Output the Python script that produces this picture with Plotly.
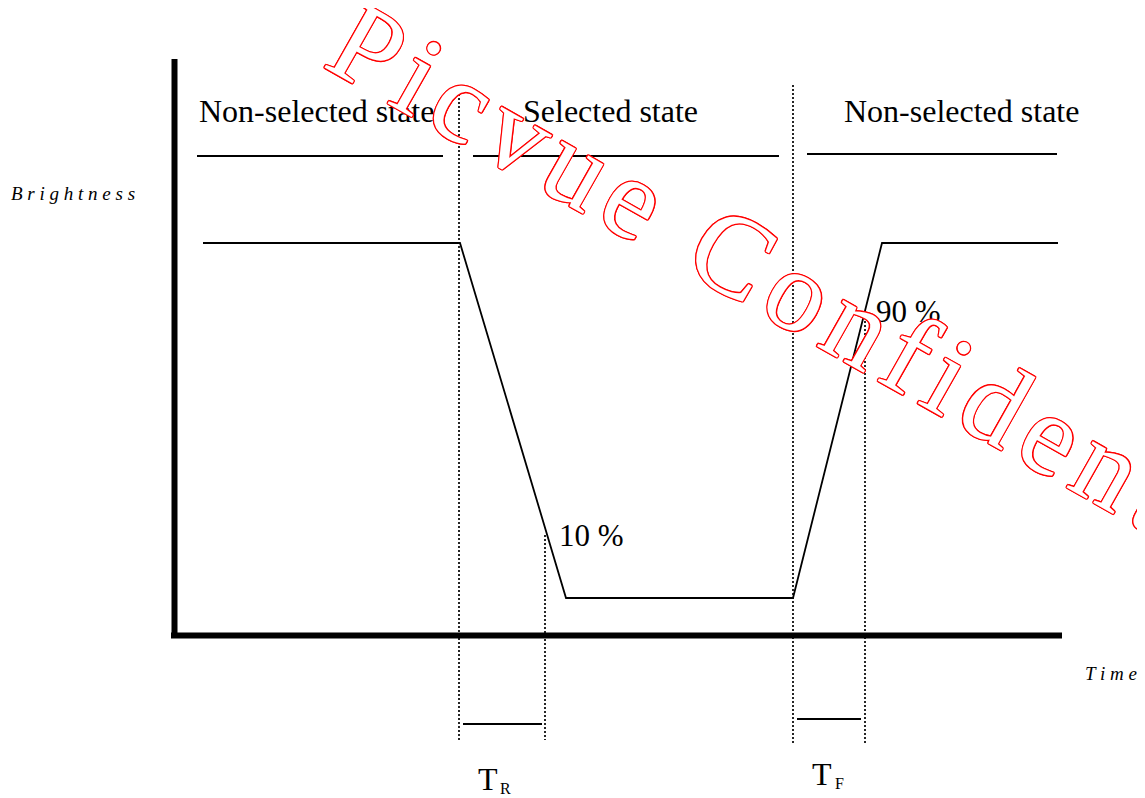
import plotly.graph_objects as go

# canvas units: x to the right, y downwards (pixels of the drawing)
W, H = 1145, 798
PAGE_MARGIN = 8  # default body margin of the html page

# brightness waveform: off -> on (rise) -> off (fall)
wave_time = [203, 460, 566, 793, 882, 1058]
wave_level = [243, 243, 598, 598, 243, 243]

# state bars above the waveform
state_start = [197, 473, 807]
state_end = [443, 779, 1057]
state_level = [156, 156, 154]
state_names = ["Non-selected state", "Selected state", "Non-selected state"]
state_name_x = [316, 610, 961]

# dotted time markers (10 % / 90 % points)
marker_time = [459, 545, 793, 865]
marker_top = [90, 535, 85, 313]
marker_bottom = [742, 740, 743, 745]

# response time intervals
interval_start = [463, 797]
interval_end = [542, 861]
interval_level = [724, 719]
interval_names = ["T", "T"]
interval_subs = ["R", "F"]

pct_labels = ["10 %", "90 %"]
pct_x = [591, 908]
pct_y = [535, 311]

watermark = "Picvue Confidential"

fig = go.Figure()

# axes drawn as thick lines
fig.add_trace(go.Scatter(x=[174.5, 174.5, None, 171, 1062], y=[59, 638, None, 635.5, 635.5],
                         mode="lines", line=dict(color="black", width=6)))

fig.add_trace(go.Scatter(x=wave_time, y=wave_level, mode="lines",
                         line=dict(color="black", width=1.8)))

sx, sy = [], []
for a, b, lv in zip(state_start, state_end, state_level):
    sx += [a, b, None]
    sy += [lv, lv, None]
fig.add_trace(go.Scatter(x=sx, y=sy, mode="lines", line=dict(color="black", width=1.8)))

mx, my = [], []
for t, a, b in zip(marker_time, marker_top, marker_bottom):
    mx += [t, t, None]
    my += [a, b, None]
fig.add_trace(go.Scatter(x=mx, y=my, mode="lines",
                         line=dict(color="black", width=1.7, dash="2px,2px")))

ix, iy = [], []
for a, b, lv in zip(interval_start, interval_end, interval_level):
    ix += [a, b, None]
    iy += [lv, lv, None]
fig.add_trace(go.Scatter(x=ix, y=iy, mode="lines", line=dict(color="black", width=2)))

serif = "Liberation Serif, Times New Roman, serif"

for name, x in zip(state_names, state_name_x):
    fig.add_annotation(x=x, y=110.5, text=name, showarrow=False,
                       font=dict(family=serif, size=32, color="black"))

for txt, x, y in zip(pct_labels, pct_x, pct_y):
    fig.add_annotation(x=x, y=y, text=txt, showarrow=False,
                       font=dict(family=serif, size=31, color="black"))

for t, s, a, lv in zip(interval_names, interval_subs, interval_start, interval_level):
    fig.add_annotation(x=a + 25, y=lv + 55, text=t, showarrow=False,
                       font=dict(family=serif, size=32, color="black"))
    fig.add_annotation(x=a + 42, y=lv + 64, text=s, showarrow=False,
                       font=dict(family=serif, size=16, color="black"))

fig.add_annotation(x=72.5, y=193, text=" ".join("Brightness"), showarrow=False,
                   font=dict(family=serif, size=19, color="black", style="italic"))
fig.add_annotation(x=1111, y=673, text=" ".join("Time"), showarrow=False,
                   font=dict(family=serif, size=19, color="black", style="italic"))

# hollow red watermark
outline = ", ".join(f"{dx}px {dy}px 0 red" for dx, dy in
                    [(1.3, 0), (-1.3, 0), (0, 1.3), (0, -1.3), (1, 1), (-1, -1), (1, -1), (-1, 1)])
fig.add_annotation(x=818, y=302, text="\u200a".join(watermark), showarrow=False,
                   textangle=29.5,
                   font=dict(family=serif, size=116, color="white", shadow=outline))

fig.update_layout(
    width=W - PAGE_MARGIN, height=H - PAGE_MARGIN,
    margin=dict(l=0, r=0, t=0, b=0),
    paper_bgcolor="white", plot_bgcolor="white",
    showlegend=False,
    xaxis=dict(range=[PAGE_MARGIN, W], visible=False, fixedrange=True),
    yaxis=dict(range=[H, PAGE_MARGIN], visible=False, fixedrange=True),
)

fig.write_html("out.html")
